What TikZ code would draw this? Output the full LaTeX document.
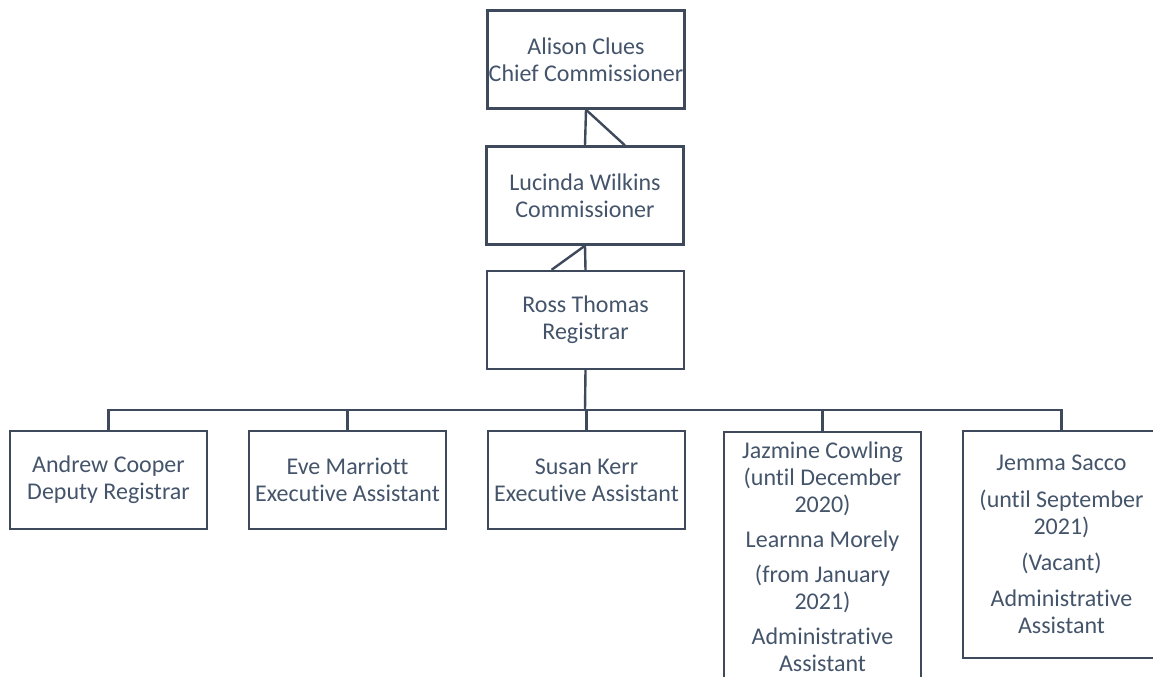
\documentclass[tikz,border=0pt]{standalone}
\usepackage{fontspec}
\setmainfont{Carlito}[Ligatures=NoCommon]
\usetikzlibrary{positioning,calc}
\definecolor{slate}{HTML}{44546A}
\definecolor{rulecol}{HTML}{3E4A5C}

\begin{document}
\begin{tikzpicture}[x=0.75pt,y=-0.75pt,
	post/.style={draw=rulecol,line width=1.8pt,text=slate,align=center,
		minimum width=147.75pt,minimum height=73.5pt,inner sep=0pt,
		font=\fontsize{18}{20.25}\selectfont},
	link/.style={draw=rulecol,line width=1.8pt}]
	\useasboundingbox (0,0) rectangle (1153,676);
	\clip (0,0) rectangle (1153,676);
	% top of the chart
	\node [post] (alison) at (586,59.5) {Alison Clues\\Chief Commissioner};
	\node [post] (lucinda) at (585,195.5) {Lucinda Wilkins\\Commissioner};
	\node [post] (ross) at (585.5,320) {Ross Thomas\\Registrar};
	% staff row
	\node [post] (andrew) at (108.5,480) {Andrew Cooper\\Deputy Registrar};
	\node [post] (eve) at (347.5,480) {Eve Marriott\\Executive Assistant};
	\node [post] (susan) at (586.5,480) {Susan Kerr\\Executive Assistant};
	\node [post,anchor=north,minimum height=187.5pt] (jazmine) at (822.5,431)
		{Jazmine Cowling\\(until December\\2020)\\[6pt]Learnna Morely\\[6pt](from January\\2021)\\[6pt]Administrative\\Assistant};
	\node [post,minimum height=170.25pt] (jemma) at (1061.5,544.5)
		{Jemma Sacco\\[7pt](until September\\2021)\\[7pt](Vacant)\\[7pt]Administrative\\Assistant};
	\coordinate (bus) at (585,410);
	% connectors
	\draw [link] (alison.south) -- (lucinda.north);
	\draw [link] (alison.south) -- ($(lucinda.north west)!0.7!(lucinda.north east)$);
	\draw [link] (lucinda.south) -- (ross.north);
	\draw [link] (lucinda.south) -- ($(ross.north west)!0.33!(ross.north east)$);
	\draw [link] (ross.south) -- (bus);
	\draw [link] (andrew.north) |- (bus) -| (jemma.north);
	\foreach \who in {eve,susan,jazmine}
		\draw [link] (\who.north) -- (\who.north |- bus);
\end{tikzpicture}
\end{document}
